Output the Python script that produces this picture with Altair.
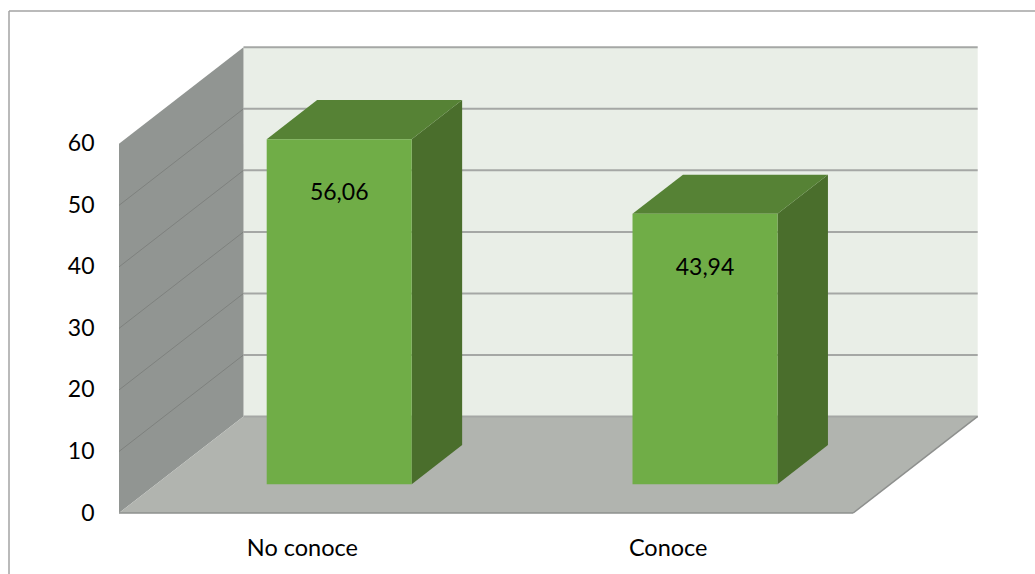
import altair as alt
import pandas as pd

# Chart content
categories = ["No conoce", "Conoce"]
values = [56.06, 43.94]
y_ticks = [0, 10, 20, 30, 40, 50, 60]

# Oblique projection of the box: x in category widths, y in value units
DEPTH_X = 0.3404
DEPTH_Y = 15.69
BAR_INSET = 0.302
BAR_WIDTH = 0.3964
BAR_DEPTH_FRONT = 0.299
BAR_DEPTH_BACK = 0.704
FLOOR_SPAN = 2.007
Y_TOP = 75.74
X_RIGHT = 2.3455

FACE_NAMES = ["wall_left", "wall_back", "floor", "bar_front", "bar_top", "bar_side"]
FACE_COLORS = ["#919592", "#e9eee7", "#b1b4af", "#70ad47", "#568235", "#4a6e2c"]


def project(x, value, depth=0.0):
    return x + depth * DEPTH_X, value + depth * DEPTH_Y


def spans(face, group, corners):
    """Turn a convex polygon into x / y / y2 rows that an area mark can fill."""
    rows = []
    n = len(corners)
    for x in sorted({c[0] for c in corners}):
        hits = []
        for i in range(n):
            (x0, y0), (x1, y1) = corners[i], corners[(i + 1) % n]
            if min(x0, x1) <= x <= max(x0, x1):
                if x0 == x1:
                    hits += [y0, y1]
                else:
                    hits.append(y0 + (y1 - y0) * (x - x0) / (x1 - x0))
        rows.append({"face": face, "group": group, "x": x, "y": min(hits), "y2": max(hits)})
    return rows


# Walls and floor
top_tick = y_ticks[-1]
scene_rows = []
scene_rows += spans("wall_back", "back", [
    project(0, 0, 1), project(FLOOR_SPAN, 0, 1),
    project(FLOOR_SPAN, top_tick, 1), project(0, top_tick, 1)])
scene_rows += spans("wall_left", "left", [
    project(0, 0, 0), project(0, 0, 1), project(0, top_tick, 1), project(0, top_tick, 0)])
scene_rows += spans("floor", "floor", [
    project(0, 0, 0), project(FLOOR_SPAN, 0, 0), project(FLOOR_SPAN, 0, 1), project(0, 0, 1)])
scene = pd.DataFrame(scene_rows)

# Grid lines across the back wall, diagonals down the left wall, floor edges
line_rows = []
for tick in y_ticks:
    for end in (0, FLOOR_SPAN):
        x, y = project(end, tick, 1)
        line_rows.append({"kind": "back", "line": tick, "x": x, "y": y})
for tick in y_ticks[1:-1]:
    for depth in (0, 1):
        x, y = project(0, tick, depth)
        line_rows.append({"kind": "left", "line": tick, "x": x, "y": y})
for key, pts in {"front": [project(0, 0, 0), project(FLOOR_SPAN, 0, 0)],
                 "right": [project(FLOOR_SPAN, 0, 0), project(FLOOR_SPAN, 0, 1)]}.items():
    for x, y in pts:
        line_rows.append({"kind": "edge", "line": key, "x": x, "y": y})
lines = pd.DataFrame(line_rows)

# The three visible faces of each bar
bar_rows = []
label_rows = []
for i, (name, value) in enumerate(zip(categories, values)):
    x0 = i + BAR_INSET
    x1 = x0 + BAR_WIDTH
    df, db = BAR_DEPTH_FRONT, BAR_DEPTH_BACK
    bar_rows += spans("bar_side", name, [
        project(x1, 0, df), project(x1, 0, db), project(x1, value, db), project(x1, value, df)])
    bar_rows += spans("bar_top", name, [
        project(x0, value, df), project(x1, value, df), project(x1, value, db), project(x0, value, db)])
    bar_rows += spans("bar_front", name, [
        project(x0, 0, df), project(x1, 0, df), project(x1, value, df), project(x0, value, df)])
    lx, ly = project((x0 + x1) / 2, value, df)
    label_rows.append({"x": lx, "y": ly, "label": f"{value:.2f}".replace(".", ",")})
bars = pd.DataFrame(bar_rows)
labels = pd.DataFrame(label_rows)

FONT = "Lato"
x_scale = alt.Scale(domain=[0, X_RIGHT], nice=False, zero=False)
y_scale = alt.Scale(domain=[0, Y_TOP], nice=False, zero=False)
face_scale = alt.Scale(domain=FACE_NAMES, range=FACE_COLORS)
category_expr = "[" + ",".join(f"'{c}'" for c in categories) + "][floor(datum.value)]"

x_enc = alt.X("x:Q", scale=x_scale, axis=alt.Axis(
    values=[i + 0.5 for i in range(len(categories))], labelExpr=category_expr, title=None,
    domain=False, ticks=False, grid=False, labelPadding=23, labelFontSize=23.5,
    labelFont=FONT, labelColor="#000000"))
y_enc = alt.Y("y:Q", scale=y_scale, axis=alt.Axis(
    values=y_ticks, title=None, domain=False, ticks=False, grid=False, labelPadding=25,
    labelFontSize=23, labelFont=FONT, labelColor="#000000"))


def faces(table):
    return alt.Chart(table).mark_area(orient="vertical", opacity=1).encode(
        x=x_enc, y=y_enc, y2="y2:Q",
        color=alt.Color("face:N", scale=face_scale, legend=None),
        detail=["group:N", "face:N"],
    )


def strokes(kind, colour, width):
    return alt.Chart(lines[lines["kind"] == kind]).mark_line(
        color=colour, strokeWidth=width).encode(
        x=alt.X("x:Q", scale=x_scale), y=alt.Y("y:Q", scale=y_scale), detail="line:N")


text = alt.Chart(labels).mark_text(
    font=FONT, fontSize=23, color="#000000", dy=54, align="center", baseline="middle"
).encode(x=alt.X("x:Q", scale=x_scale), y=alt.Y("y:Q", scale=y_scale), text="label:N")

# Frame along the top and left of the figure
frame = alt.layer(
    alt.Chart().mark_rule(color="#a3a3a3", strokeWidth=1.5).encode(
        x=alt.value(-110), x2=alt.value(916), y=alt.value(-36)),
    alt.Chart().mark_rule(color="#a3a3a3", strokeWidth=1.5).encode(
        x=alt.value(-110), y=alt.value(-36), y2=alt.value(527)),
)

chart = alt.layer(
    faces(scene),
    strokes("back", "#a5a7a5", 2),
    strokes("left", "#7e817e", 1),
    strokes("edge", "#8e908e", 1.5),
    faces(bars),
    text,
    frame,
).resolve_scale(color="shared").properties(
    width=858, height=466,
    padding={"left": 119, "top": 47, "right": 58, "bottom": 61},
    autosize=alt.AutoSizeParams(type="none"),
    background="#ffffff",
).configure_view(stroke=None)

chart.save("out.html", embed_options={"renderer": "svg", "actions": False})
